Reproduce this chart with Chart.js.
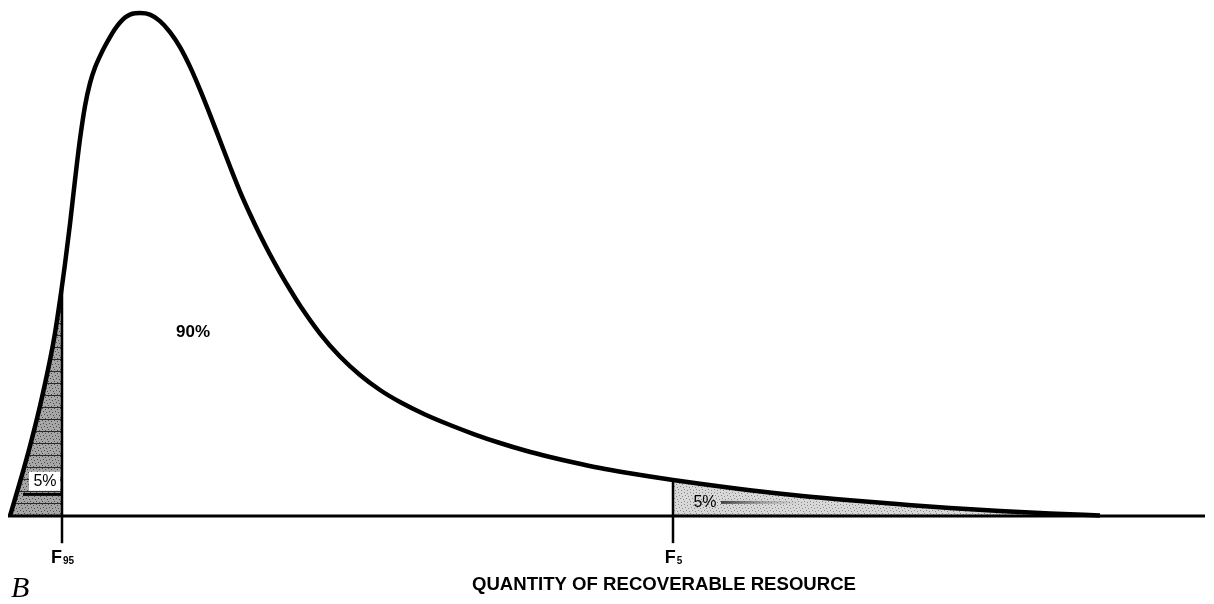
<!DOCTYPE html>
<html>
<head>
<meta charset="utf-8">
<script src="https://cdn.jsdelivr.net/npm/chart.js@4.4.1/dist/chart.umd.min.js"></script>
<style>
  html, body { margin: 0; padding: 0; background: #fff; }
  #wrap { width: 1214px; height: 604px; }
</style>
</head>
<body>
<div id="wrap"><canvas id="chart" width="1214" height="604"></canvas></div>
<script>
// quantity of recoverable resource (arbitrary units) and relative probability density (peak = 100)
const quantity = [0, 1.0, 2.0, 3.0, 4.0, 4.5, 5.0, 5.2, 5.5, 6.0, 6.5, 7.0, 7.5, 8.0, 8.5, 9.0,
  9.5, 10.0, 10.5, 11.0, 11.5, 12.0, 12.5, 13.0, 14.0, 15.0, 16.0, 17.0, 18.0, 19.0, 20.0, 21.0,
  22.0, 23.0, 24.0, 25.0, 26.0, 27.0, 28.0, 29.0, 31.0, 33.0, 35.0, 37.0, 39.0, 41.5, 44.0, 46.5,
  49.0, 51.5, 54.0, 56.5, 59.0, 61.5, 64.0, 66.3, 69.0, 74.0, 79.0, 84.0, 89.0, 94.0, 99.0, 104.0, 109.0];
const density = [0, 6.76, 13.92, 21.87, 31.01, 36.38, 42.94, 45.73, 50.10, 58.05, 66.80, 74.95, 81.51, 86.08, 89.17, 91.45,
  93.44, 95.23, 96.82, 98.11, 99.11, 99.70, 99.96, 100.0, 99.70, 98.41, 96.22, 93.24, 89.36, 84.79, 79.82, 74.65,
  69.48, 64.51, 60.04, 55.86, 51.99, 48.41, 45.03, 41.85, 36.28, 31.71, 28.03, 25.05, 22.66, 20.18, 18.09, 16.20,
  14.51, 13.02, 11.73, 10.58, 9.54, 8.65, 7.85, 7.16, 6.40, 5.11, 4.02, 3.12, 2.33, 1.59, 1.00, 0.50, 0.10];

const f95 = 5.2;   // exceeded with 95% probability
const f5 = 66.3;   // exceeded with 5% probability
const fractiles = [f95, f5];
const fractileSubs = ['95', '5'];
const areaLabels = ['5%', '90%', '5%'];
const axisTitle = 'QUANTITY OF RECOVERABLE RESOURCE';
const panelLetter = 'B';

const curve = quantity.map((q, i) => ({ x: q, y: density[i] }));
const densityAt = q => density[quantity.indexOf(q)];

function makePattern(base, dot, stripe) {
  const c = document.createElement('canvas');
  c.width = 6; c.height = 12;
  const g = c.getContext('2d');
  g.fillStyle = base;
  g.fillRect(0, 0, 6, 12);
  g.fillStyle = dot;
  [[0, 0], [3, 1], [1, 3], [4, 4], [2, 6], [5, 7], [0, 9], [3, 10]].forEach(([x, y]) => g.fillRect(x, y, 1, 1));
  if (stripe) { g.fillStyle = stripe; g.fillRect(0, 11, 6, 1); }
  return g.createPattern(c, 'repeat');
}

const ctx = document.getElementById('chart').getContext('2d');
const darkFill = makePattern('#a6a6a6', '#4a4a4a', '#2a2a2a');
const lightFill = makePattern('#d8d8d8', '#888', null);

const labelsPlugin = {
  id: 'labels',
  afterDatasetsDraw(chart) {
    const { ctx: c, scales: { x, y } } = chart;
    c.save();
    c.fillStyle = '#000';
    c.textBaseline = 'middle';
    c.textAlign = 'center';

    // left tail label on a white patch, with the dark band below it
    const lx = x.getPixelForValue(3.3), ly = y.getPixelForValue(6.8);
    c.fillStyle = '#fff';
    c.fillRect(lx - 14, ly - 10, 31, 19);
    c.fillStyle = '#000';
    c.fillRect(x.getPixelForValue(1.3), y.getPixelForValue(4.6), x.getPixelForValue(f95) - x.getPixelForValue(1.3), 3);
    c.font = '16px "Liberation Sans", Arial, sans-serif';
    c.fillText(areaLabels[0], lx + 2, ly);

    c.font = 'bold 17px "Liberation Sans", Arial, sans-serif';
    c.fillText(areaLabels[1], x.getPixelForValue(18.3), y.getPixelForValue(36.6));

    // upper tail label with the smudge to its right
    const rx = x.getPixelForValue(69.5), ry = y.getPixelForValue(2.6);
    const grad = c.createLinearGradient(rx + 16, 0, rx + 95, 0);
    grad.addColorStop(0, 'rgba(50,50,50,0.9)');
    grad.addColorStop(1, 'rgba(120,120,120,0)');
    c.fillStyle = grad;
    c.fillRect(rx + 16, ry - 2, 80, 3);
    c.fillStyle = '#000';
    c.font = '16px "Liberation Sans", Arial, sans-serif';
    c.fillText(areaLabels[2], rx, ry);

    // fractile tick labels
    fractiles.forEach((q, i) => {
      const px = x.getPixelForValue(q), py = y.getPixelForValue(-8.3);
      c.textAlign = 'left';
      c.font = 'bold 18px "Liberation Sans", Arial, sans-serif';
      const fw = c.measureText('F').width;
      c.font = 'bold 10px "Liberation Sans", Arial, sans-serif';
      const sw = c.measureText(fractileSubs[i]).width;
      const start = px - (fw + sw) / 2;
      c.font = 'bold 18px "Liberation Sans", Arial, sans-serif';
      c.fillText('F', start, py);
      c.font = 'bold 10px "Liberation Sans", Arial, sans-serif';
      c.fillText(fractileSubs[i], start + fw + 1, py + 4);
    });

    // axis title, condensed to the width it has in the figure
    c.textAlign = 'center';
    c.font = 'bold 19px "Liberation Sans", Arial, sans-serif';
    const tw = c.measureText(axisTitle).width;
    const tx = x.getPixelForValue(65.4), ty = y.getPixelForValue(-13.7);
    c.translate(tx, ty);
    c.scale(384 / tw, 1);
    c.fillText(axisTitle, 0, 0);
    c.setTransform(1, 0, 0, 1, 0, 0);

    c.textAlign = 'left';
    c.font = 'italic 30px "Liberation Serif", serif';
    c.fillText(panelLetter, x.getPixelForValue(0.1), y.getPixelForValue(-14.6));
    c.restore();
  }
};

new Chart(ctx, {
  type: 'line',
  data: {
    datasets: [
      {
        label: 'lower tail',
        data: curve.filter(p => p.x <= f95),
        fill: 'origin',
        backgroundColor: darkFill,
        borderWidth: 0,
        pointRadius: 0,
        cubicInterpolationMode: 'monotone',
        order: 5
      },
      {
        label: 'upper tail',
        data: curve.filter(p => p.x >= f5),
        fill: 'origin',
        backgroundColor: lightFill,
        borderWidth: 0,
        pointRadius: 0,
        cubicInterpolationMode: 'monotone',
        order: 5
      },
      {
        label: 'density',
        data: curve,
        borderColor: '#000',
        borderWidth: 4.5,
        pointRadius: 0,
        fill: false,
        cubicInterpolationMode: 'monotone',
        order: 1
      },
      {
        label: 'axis',
        data: [{ x: -0.2, y: 0 }, { x: 119.5, y: 0 }],
        borderColor: '#000',
        borderWidth: 3,
        pointRadius: 0,
        fill: false,
        order: 2
      },
      ...fractiles.map(q => ({
        label: 'fractile',
        data: [{ x: q, y: -5.4 }, { x: q, y: densityAt(q) }],
        borderColor: '#000',
        borderWidth: 2.5,
        pointRadius: 0,
        fill: false,
        order: 3
      }))
    ]
  },
  options: {
    responsive: false,
    animation: false,
    layout: { padding: 0 },
    plugins: { legend: { display: false }, tooltip: { enabled: false } },
    scales: {
      x: { type: 'linear', min: -1, max: 120.4, display: false },
      y: { type: 'linear', min: -17.5, max: 102.6, display: false }
    }
  },
  plugins: [labelsPlugin]
});
</script>
</body>
</html>
